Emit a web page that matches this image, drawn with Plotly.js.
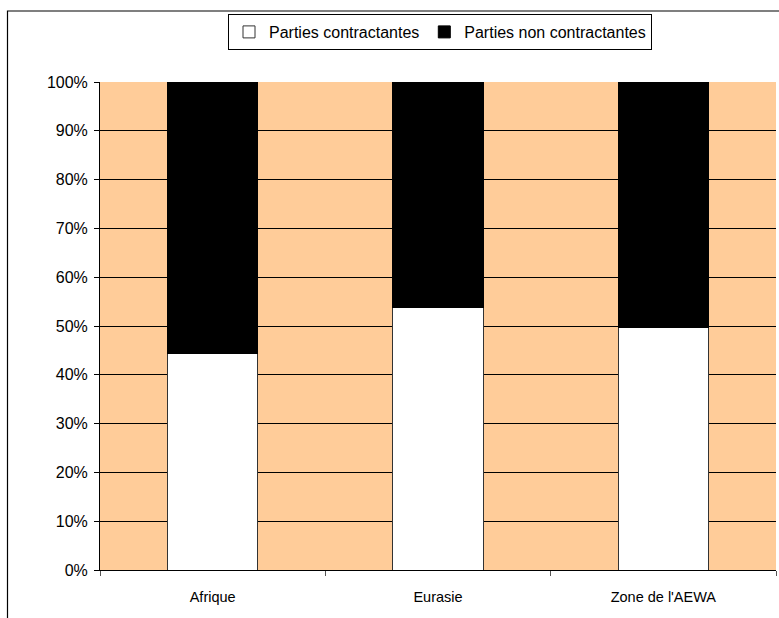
<!DOCTYPE html>
<html>
<head>
<meta charset="utf-8">
<script src="https://cdn.plot.ly/plotly-3.0.1.min.js"></script>
<style>html,body{margin:0;padding:0;background:#fff;}#chart{width:779px;height:618px;}</style>
</head>
<body>
<div id="chart"></div>
<script>
const categories = ['Afrique', 'Eurasie', "Zone de l'AEWA"];
const contractantes = [44.4, 53.8, 49.6];
const nonContractantes = [55.6, 46.2, 50.4];
const seriesNames = ['Parties contractantes', 'Parties non contractantes'];
const yTickVals = [0, 10, 20, 30, 40, 50, 60, 70, 80, 90, 100];
const yTickText = ['0%', '10%', '20%', '30%', '40%', '50%', '60%', '70%', '80%', '90%', '100%'];

const W = 779, H = 618;
const mL = 100, mR = 3, mT = 82, mB = 48;
const pw = W - mL - mR, ph = H - mT - mB;
function px2x(p) { return (p - mL) / pw; }
function px2y(p) { return (H - mB - p) / ph; }

const traces = [
  {
    type: 'bar', name: seriesNames[0], x: categories, y: contractantes,
    marker: {color: '#ffffff', line: {color: '#333333', width: 1}},
    hoverinfo: 'skip'
  },
  {
    type: 'bar', name: seriesNames[1], x: categories, y: nonContractantes,
    marker: {color: '#000000', line: {color: '#000000', width: 1}},
    hoverinfo: 'skip'
  }
];

const layout = {
  width: W, height: H,
  margin: {l: mL, r: mR, t: mT, b: mB, pad: 0},
  paper_bgcolor: '#ffffff',
  plot_bgcolor: '#ffcc99',
  font: {family: 'Liberation Sans, Arial, sans-serif', color: '#000000', size: 16},
  barmode: 'stack',
  bargap: 0.6,
  showlegend: true,
  legend: {
    orientation: 'h', traceorder: 'normal',
    x: px2x(440), xanchor: 'center',
    y: px2y(14), yanchor: 'top',
    bgcolor: '#ffffff', bordercolor: '#000000', borderwidth: 1,
    font: {size: 16, color: '#000000'},
    itemwidth: 30
  },
  xaxis: {
    type: 'category',
    tickson: 'boundaries',
    ticks: 'outside', ticklen: 5, tickcolor: '#555555', tickwidth: 1,
    showline: true, linecolor: '#000000', linewidth: 1,
    showgrid: false,
    tickfont: {size: 14.5},
    ticklabelstandoff: 14,
    fixedrange: true
  },
  yaxis: {
    range: [0, 100],
    tickvals: yTickVals, ticktext: yTickText,
    ticks: 'outside', ticklen: 5, tickcolor: '#000000',
    showline: true, linecolor: '#000000', linewidth: 1,
    showgrid: true, gridcolor: '#000000', gridwidth: 1,
    zeroline: false,
    tickfont: {size: 16},
    ticklabelstandoff: 3,
    fixedrange: true
  },
  shapes: [
    {type: 'rect', xref: 'paper', yref: 'paper',
     x0: px2x(7.5), x1: px2x(800), y0: px2y(640), y1: px2y(11),
     line: {color: '#000000', width: 1.2}, fillcolor: 'rgba(0,0,0,0)', layer: 'below'}
  ]
};

Plotly.newPlot('chart', traces, layout, {staticPlot: true, displayModeBar: false});
</script>
</body>
</html>
